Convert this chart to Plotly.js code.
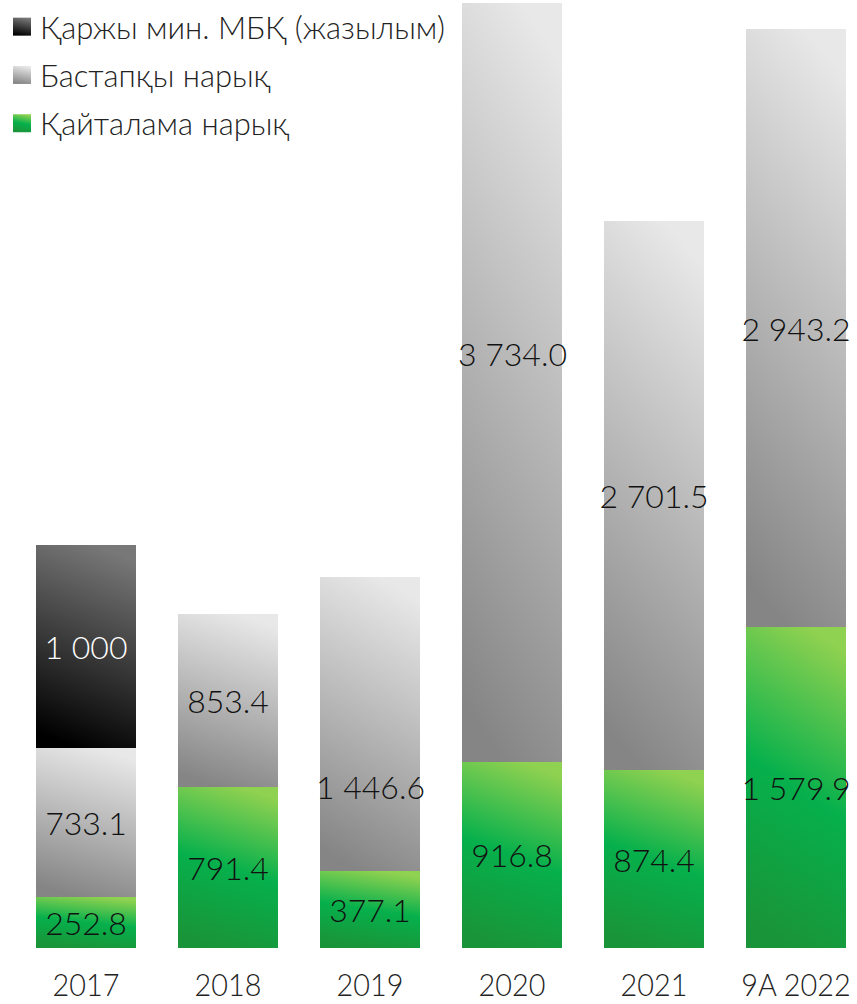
<!DOCTYPE html>
<html><head><meta charset="utf-8">
<script src="https://cdn.plot.ly/plotly-3.0.1.min.js"></script>
<style>html,body{margin:0;padding:0;background:#fff;}#chart{width:857px;height:1004px;}</style>
</head><body><div id="chart"></div>
<script>
const categories = ['2017', '2018', '2019', '2020', '2021', '9A 2022'];
const secondaryMarket = [252.8, 791.4, 377.1, 916.8, 874.4, 1579.9];
const primaryMarket = [733.1, 853.4, 1446.6, 3734.0, 2701.5, 2943.2];
const minfinSubscription = [1000, null, null, null, null, null];
const seriesNames = ['Қайталама нарық', 'Бастапқы нарық', 'Қаржы мин. МБҚ (жазылым)'];

function fmt(v, dec) {
  if (v === null || v === undefined) return '';
  const s = v.toFixed(dec);
  const parts = s.split('.');
  parts[0] = parts[0].replace(/\B(?=(\d{3})+(?!\d))/g, ' ');
  return parts.join('.');
}
// labels drawn away from the segment centre in the reference (label height on the value axis)
const offsetLabels = [{i: 2, y: 795}, {i: 3, y: 2928}];
const offsetIdx = offsetLabels.map(o => o.i);

const textFont = {family: 'Lato, "Open Sans", sans-serif', size: 32, weight: 300, color: '#111'};
const common = {
  type: 'bar', x: categories, textposition: 'inside', insidetextanchor: 'middle',
  constraintext: 'none', textangle: 0, cliponaxis: false, hoverinfo: 'skip'
};
const traces = [
  Object.assign({}, common, {name: seriesNames[0], y: secondaryMarket, legendgroup: 'a', legendrank: 3,
    text: secondaryMarket.map(v => fmt(v, 1)), marker: {color: '#0db14b', line: {width: 0}},
    textfont: textFont}),
  Object.assign({}, common, {name: seriesNames[1], y: primaryMarket, legendgroup: 'b', legendrank: 2,
    text: primaryMarket.map((v, i) => offsetIdx.includes(i) ? '' : fmt(v, 1)), marker: {color: '#bbbbbb', line: {width: 0}},
    textfont: textFont}),
  Object.assign({}, common, {name: seriesNames[2], y: minfinSubscription, legendgroup: 'c', legendrank: 1,
    text: minfinSubscription.map(v => fmt(v, 0)), marker: {color: '#333333', line: {width: 0}},
    textfont: Object.assign({}, textFont, {color: '#ffffff'})})
];

const annotations = offsetLabels.map(o => ({
  x: o.i, y: o.y, xref: 'x', yref: 'y', showarrow: false,
  text: fmt(primaryMarket[o.i], 1),
  font: {family: 'Lato, "Open Sans", sans-serif', size: 32, weight: 300, color: '#111'}
}));

const layout = {
  width: 857, height: 1004, barmode: 'stack', bargap: 0.296,
  margin: {l: 0, r: 0, t: 0, b: 56},
  paper_bgcolor: '#ffffff', plot_bgcolor: '#ffffff',
  showlegend: true,
  legend: {x: 0, y: 1, xanchor: 'left', yanchor: 'top', traceorder: 'grouped',
    tracegroupgap: 5, bgcolor: 'rgba(0,0,0,0)',
    font: {family: 'Lato, "Open Sans", sans-serif', size: 31, weight: 300, color: '#222'}},
  xaxis: {type: 'category', range: [-0.6056, 5.4296], showgrid: false, zeroline: false,
    showline: false, ticks: '', fixedrange: true, automargin: false, ticklabelstandoff: 15,
    tickfont: {family: 'Lato, "Open Sans", sans-serif', size: 32, weight: 300, color: '#222'}},
  yaxis: {range: [0, 4666], visible: false, showgrid: false, zeroline: false, fixedrange: true},
  annotations: annotations
};

function addGradients(gd) {
  const svg = gd.querySelector('svg.main-svg');
  const ns = 'http://www.w3.org/2000/svg';
  let defs = svg.querySelector('defs');
  if (!defs) { defs = document.createElementNS(ns, 'defs'); svg.insertBefore(defs, svg.firstChild); }
  const grads = {
    gGreen: [[0, '#8fd150'], [0.5, '#06b04c'], [1, '#1a9438']],
    gGray: [[0, '#e8e8e8'], [1, '#858585']],
    gBlack: [[0, '#787878'], [1, '#000000']]
  };
  Object.keys(grads).forEach(id => {
    const lg = document.createElementNS(ns, 'linearGradient');
    lg.setAttribute('id', id);
    lg.setAttribute('x1', '0.6'); lg.setAttribute('y1', '0');
    lg.setAttribute('x2', '0.4'); lg.setAttribute('y2', '1');
    grads[id].forEach(s => {
      const st = document.createElementNS(ns, 'stop');
      st.setAttribute('offset', s[0]); st.setAttribute('stop-color', s[1]);
      lg.appendChild(st);
    });
    defs.appendChild(lg);
  });
  const ids = ['gGreen', 'gGray', 'gBlack'];
  gd.querySelectorAll('.barlayer .trace.bars').forEach(t => {
    const d = t.__data__; const idx = d && d[0] && d[0].trace ? d[0].trace.index : null;
    if (idx === null) return;
    t.querySelectorAll('path').forEach(p => { p.style.fill = 'url(#' + ids[idx] + ')'; });
  });
  gd.querySelectorAll('.legend .traces').forEach(t => {
    const d = t.__data__; const idx = d && d[0] && d[0].trace ? d[0].trace.index : null;
    if (idx === null) return;
    t.querySelectorAll('.legendpoints path').forEach(p => {
      p.style.fill = 'url(#' + ids[idx] + ')';
      p.setAttribute('transform', 'scale(1.5)');
      const r = p.getBoundingClientRect();
      const dx = 13 - r.left;
      p.setAttribute('transform', 'translate(' + dx + ',0) scale(1.5)');
    });
  });
  // nudge the legend block up to the reference's top offset
  const leg = gd.querySelector('g.legend');
  if (leg) {
    const m = /translate\(([-\d.]+),\s*([-\d.]+)\)/.exec(leg.getAttribute('transform') || '');
    if (m) leg.setAttribute('transform', 'translate(' + m[1] + ',' + (parseFloat(m[2]) - 11) + ')');
  }
  // slightly condensed year labels, as in the reference face
  gd.querySelectorAll('.xtick text').forEach(tx => {
    const w = tx.getComputedTextLength();
    tx.setAttribute('textLength', (w * 0.9).toFixed(1));
    tx.setAttribute('lengthAdjust', 'spacingAndGlyphs');
  });
}

Plotly.newPlot('chart', traces, layout, {staticPlot: true, displayModeBar: false})
  .then(addGradients);
</script></body></html>
